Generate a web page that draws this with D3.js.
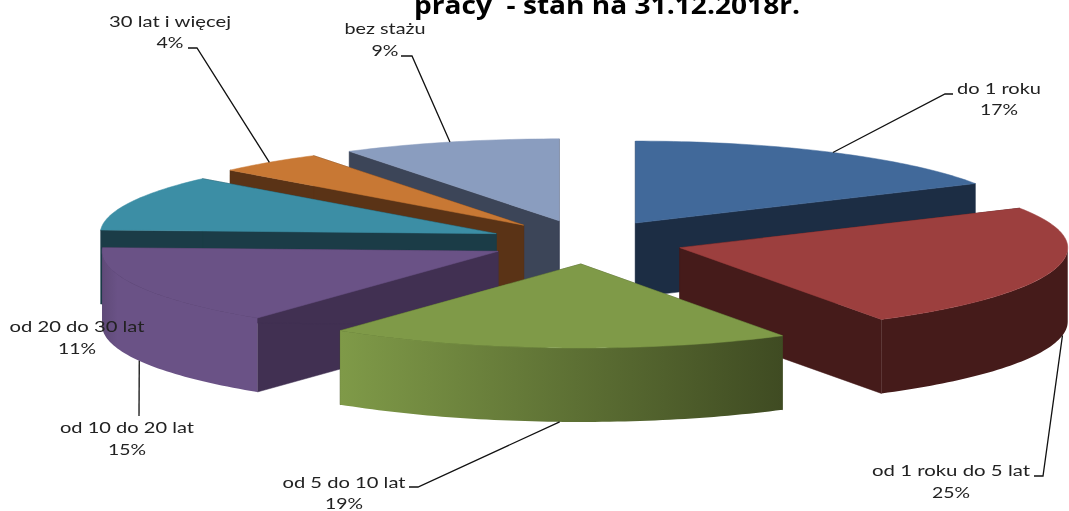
<!DOCTYPE html>
<html><head><meta charset="utf-8">
<style>html,body{margin:0;padding:0;background:#fff;overflow:hidden}svg{display:block}text{filter:blur(.35px)}</style>
<script src="https://cdn.jsdelivr.net/npm/d3@7/dist/d3.min.js"></script>
</head><body><svg id="c" width="1069" height="511"></svg>
<script>
const titleText = "pracy  - stan na 31.12.2018r.";
const categories = ["do 1 roku","od 1 roku do 5 lat","od 5 do 10 lat","od 10 do 20 lat","od 20 do 30 lat","30 lat i więcej","bez stażu"];
// percentages printed on the labels
const percents = [17,25,19,15,11,4,9];
// slice shares
const values = [17,24.3,19.1,15.3,11,4.4,8.9];

const topColors  = ["#41699a","#9c3f3e","#7f9a48","#6a5286","#3c8ea5","#c87834","#8a9dbf"];
const sideColors = ["#1c2d44","#451b1a","#3f4b22","#413052","#1b3c47","#5a3316","#3c4558"];
const wallFrom   = ["#1c2d44","#451b1a","#7f9a48","#5f4a78","#1b3c47","#5a3316","#3c4558"];
const wallTo     = ["#1c2d44","#451b1a","#3f4b22","#6a5286","#1b3c47","#5a3316","#3c4558"];
const paintOrder = [0,6,5,4,3,1,2];

// label layout: centre x, name y, percent y, width of the name, width of the percent, leader elbow
const labelX  = [999,951,344,127,77,170,385];
const labelY  = [89,471,483,428,327,22,29];
const pctY    = [110,493,504,450,349,43,51];
const labelW  = [84,158,123,134,135,122,81];
const pctW    = [38,38,38,38,38,27,27];
const elbows  = [[[953,94],[945,94]],[[1034,476],[1043,476]],[[409,487],[418,487]],[[139,416]],null,[[188,48],[197,48]],[[401,56],[412,56]]];
const leaderShift = [0,-5.5,0,0,0,0,0];

const cx=586, cy=242, ex=97, ey=22, rxL=396, rxR=388, ryFront=84, ryBack=82, depth=74;
const svg=d3.select("#c");
const defs=svg.append("defs");
const arcs=d3.pie().sort(null).value(d=>d)(values);
const mid=a=>(a.startAngle+a.endAngle)/2;
const apex=a=>[cx+ex*Math.sin(mid(a)), cy-ey*Math.cos(mid(a))];
const onRim=(c,t,dz=0)=>[c[0]+(Math.sin(t)<0?rxL:rxR)*Math.sin(t), c[1]-(Math.cos(t)>0?ryBack:ryFront)*Math.cos(t)+dz];
const line=d3.line();
const samples=(t0,t1)=>{const n=Math.max(2,Math.ceil((t1-t0)/0.02));return d3.range(n+1).map(i=>t0+(t1-t0)*i/n);};

const pieG=svg.append("g");
paintOrder.forEach(i=>{
  const a=arcs[i], c=apex(a), g=pieG.append("g");
  const t0=a.startAngle,t1=a.endAngle;
  [t0,t1].forEach(t=>{
    const r=onRim(c,t);
    g.append("path").attr("d",line([c,r,[r[0],r[1]+depth],[c[0],c[1]+depth]])+"Z")
      .attr("fill",sideColors[i]).attr("stroke",sideColors[i]).attr("stroke-width",.5);
  });
  const w0=Math.max(t0,Math.PI/2), w1=Math.min(t1,3*Math.PI/2);
  if(w1>w0){
    const s=samples(w0,w1);
    const up=s.map(t=>onRim(c,t)), down=s.map(t=>onRim(c,t,depth)).reverse();
    const xs=up.map(p=>p[0]);
    const id="wall"+i;
    const lg=defs.append("linearGradient").attr("id",id).attr("gradientUnits","userSpaceOnUse")
      .attr("x1",d3.min(xs)).attr("x2",d3.max(xs)).attr("y1",0).attr("y2",0);
    lg.append("stop").attr("offset",0).attr("stop-color",wallFrom[i]);
    lg.append("stop").attr("offset",i===3?.1:1).attr("stop-color",wallTo[i]);
    g.append("path").attr("d",line(up.concat(down))+"Z").attr("fill",`url(#${id})`);
  }
  const rim=samples(t0,t1).map(t=>onRim(c,t));
  g.append("path").attr("d",line([c].concat(rim))+"Z").attr("fill",topColors[i])
    .attr("stroke",topColors[i]).attr("stroke-width",.5);
});

// leaders run from the rim near each slice's middle angle to the label
arcs.forEach((a,i)=>{
  if(!elbows[i]) return;
  const t=mid(a)+leaderShift[i]*Math.PI/180, front=Math.cos(t)<0;
  const p=onRim(apex(a),t,front?depth:0);
  svg.append("path").attr("d",line([p].concat(elbows[i].slice().reverse())))
    .attr("fill","none").attr("stroke","#111").attr("stroke-width",1.3);
});

const font="Lato, 'Open Sans', sans-serif";
categories.forEach((name,i)=>{
  svg.append("text").attr("x",labelX[i]).attr("y",labelY[i]+5).attr("text-anchor","middle")
    .attr("font-family",font).attr("font-size",16).attr("fill","#222")
    .attr("textLength",labelW[i]).attr("lengthAdjust","spacingAndGlyphs").text(name);
  svg.append("text").attr("x",labelX[i]).attr("y",pctY[i]+5).attr("text-anchor","middle")
    .attr("font-family",font).attr("font-size",16).attr("fill","#222")
    .attr("textLength",pctW[i]).attr("lengthAdjust","spacingAndGlyphs").text(percents[i]+"%");
});
svg.append("text").attr("x",414).attr("y",14).attr("xml:space","preserve").style("white-space","pre")
  .attr("font-family","'Open Sans', sans-serif").attr("font-weight",700).attr("font-size",25).attr("fill","#000")
  .attr("textLength",386).attr("lengthAdjust","spacingAndGlyphs").text(titleText);
</script></body></html>
